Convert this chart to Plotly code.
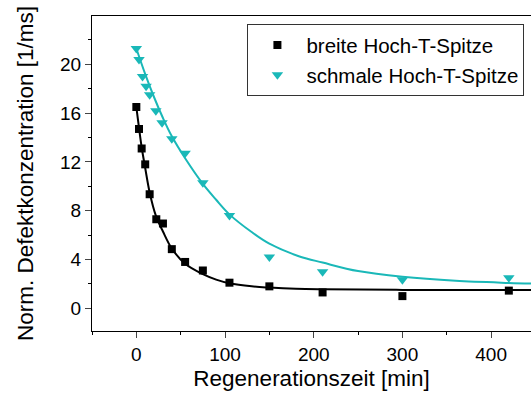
import plotly.graph_objects as go

broad_x = [0, 3, 6, 10, 15, 22.5, 30, 40, 55, 75, 105, 150, 210, 300, 420]
broad_y = [16.5, 14.7, 13.1, 11.8, 9.35, 7.3, 6.95, 4.85, 3.8, 3.1, 2.1, 1.8, 1.3, 1.0, 1.45]

narrow_x = [0, 3, 7, 11, 15, 22, 29, 40, 55, 75, 105, 150, 210, 300, 420]
narrow_y = [21.3, 20.4, 19.0, 18.2, 17.5, 16.2, 15.2, 13.9, 12.7, 10.3, 7.6, 4.2, 3.0, 2.35, 2.5]

# fit curves
broad_fit_x = [0, 3, 6, 10, 15, 22, 30, 40, 55, 75, 90, 105, 130, 150, 180, 210, 300, 445]
broad_fit_y = [16.5, 14.8, 13.2, 11.5, 9.5, 7.6, 6.3, 4.9, 3.65, 2.8, 2.35, 2.05, 1.8, 1.7, 1.6, 1.56, 1.51, 1.5]

narrow_fit_x = [0, 10, 20, 30, 40, 55, 75, 90, 105, 130, 150, 184, 210, 250, 300, 360, 420, 445]
narrow_fit_y = [21.3, 19.2, 17.3, 15.6, 14.1, 12.3, 10.2, 8.9, 7.7, 6.25, 5.3, 4.25, 3.75, 3.05, 2.58, 2.25, 2.08, 2.03]

x_ticks = [0, 100, 200, 300, 400]
y_ticks = [0, 4, 8, 12, 16, 20]

BLACK = "#000000"
CYAN = "#1AB8B8"
FONT = "Liberation Sans, Arial, sans-serif"

fig = go.Figure()
fig.add_trace(go.Scatter(x=broad_fit_x, y=broad_fit_y, mode="lines", line=dict(color=BLACK, width=2, shape="spline"),
                         showlegend=False, hoverinfo="skip"))
fig.add_trace(go.Scatter(x=narrow_fit_x, y=narrow_fit_y, mode="lines", line=dict(color=CYAN, width=2, shape="spline"),
                         showlegend=False, hoverinfo="skip"))
fig.add_trace(go.Scatter(x=broad_x, y=broad_y, mode="markers", name="breite Hoch-T-Spitze",
                         marker=dict(symbol="square", size=8, color=BLACK)))
fig.add_trace(go.Scatter(x=narrow_x, y=narrow_y, mode="markers", name="schmale Hoch-T-Spitze",
                         marker=dict(symbol="triangle-down", size=10, color=CYAN)))

fig.update_layout(
    width=531, height=396,
    margin=dict(l=92, r=0, t=16, b=65),
    paper_bgcolor="white", plot_bgcolor="white",
    font=dict(family=FONT, size=19, color="black"),
    legend=dict(x=0.985, y=0.974, xanchor="right", yanchor="top",
                bordercolor="#333333", borderwidth=1, bgcolor="white",
                font=dict(size=20.5), itemwidth=48, tracegroupgap=0),
)
fig.update_xaxes(
    range=[-50, 445], tickvals=x_ticks, ticks="outside", ticklen=6, tickwidth=1,
    showline=True, linecolor="black", linewidth=1, mirror=True, showgrid=False, zeroline=False,
    minor=dict(dtick=50, tick0=0, ticks="outside", ticklen=3, tickcolor="black"),
    title=dict(text="Regenerationszeit [min]", font=dict(size=22.5), standoff=6),
)
fig.update_yaxes(
    range=[-1.86, 23.96], tickvals=y_ticks, ticks="outside", ticklen=6, tickwidth=1,
    showline=True, linecolor="black", linewidth=1, mirror=False, showgrid=False, zeroline=False,
    minor=dict(dtick=2, tick0=0, ticks="outside", ticklen=3, tickcolor="black"),
    title=dict(text="Norm. Defektkonzentration [1/ms]", font=dict(size=22.5), standoff=20),
)

fig.write_html("out.html")
